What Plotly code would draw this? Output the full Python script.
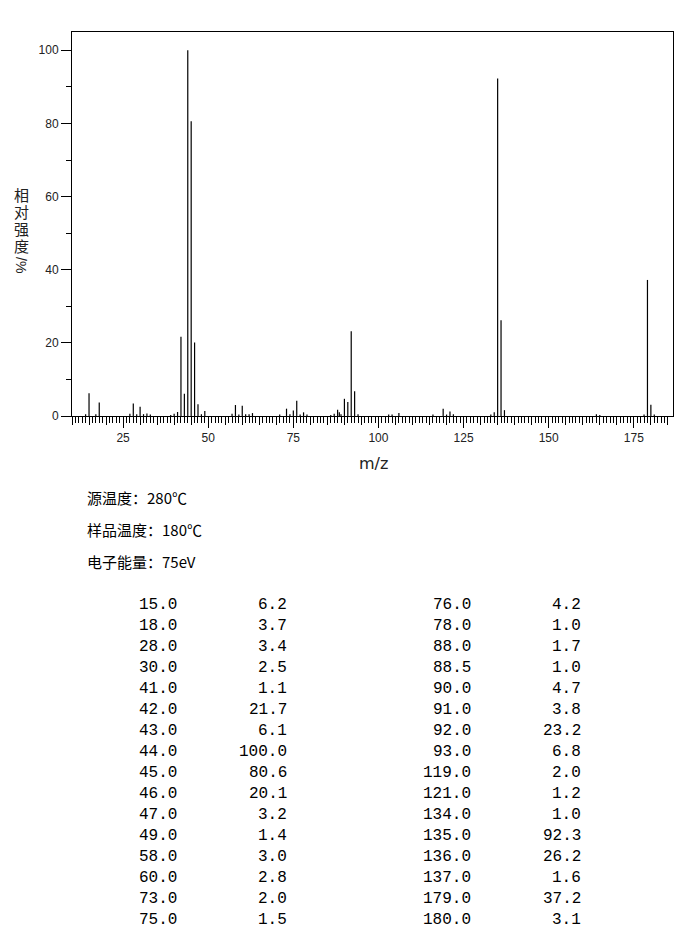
import plotly.graph_objects as go

# peak table (m/z, relative intensity %)
mz_left = [15.0, 18.0, 28.0, 30.0, 41.0, 42.0, 43.0, 44.0, 45.0, 46.0, 47.0, 49.0, 58.0, 60.0, 73.0, 75.0]
int_left = [6.2, 3.7, 3.4, 2.5, 1.1, 21.7, 6.1, 100.0, 80.6, 20.1, 3.2, 1.4, 3.0, 2.8, 2.0, 1.5]
mz_right = [76.0, 78.0, 88.0, 88.5, 90.0, 91.0, 92.0, 93.0, 119.0, 121.0, 134.0, 135.0, 136.0, 137.0, 179.0, 180.0]
int_right = [4.2, 1.0, 1.7, 1.0, 4.7, 3.8, 23.2, 6.8, 2.0, 1.2, 1.0, 92.3, 26.2, 1.6, 37.2, 3.1]

# small peaks (< 1 %)
minor_mz = [14, 17, 27, 29, 31, 32, 33, 39, 40, 48, 57, 59, 61, 62, 63, 71, 74, 77, 79,
            86, 87, 89, 94, 103, 104, 106, 116, 120, 122, 133, 164, 165, 178, 181]
minor_int = [0.5, 0.5, 0.6, 0.5, 0.5, 0.7, 0.4, 0.3, 0.6, 0.5, 0.6, 0.4, 0.5, 0.5, 0.8, 0.4, 0.5, 0.4, 0.4,
             0.3, 0.6, 0.5, 0.5, 0.4, 0.4, 0.8, 0.4, 0.4, 0.5, 0.4, 0.5, 0.3, 0.4, 0.4]

info_lines = ["源温度：280℃", "样品温度：180℃", "电子能量：75eV"]
ytitle_chars = "相对强度"

W, H = 696, 950
OFF = 8  # page body margin
L, R, T, B = 72, 673, 32, 416  # plot box on the page


def px(x):
    return (x - L) / (R - L)


def py(y):
    return (B - y) / (B - T)


all_mz = mz_left + mz_right + minor_mz
all_int = int_left + int_right + minor_int
xs, ys = [], []
for m, v in zip(all_mz, all_int):
    xs += [m, m, None]
    ys += [0, v, None]

fig = go.Figure()
fig.add_trace(go.Scatter(x=xs, y=ys, mode="lines", line=dict(color="black", width=1.2),
                         hoverinfo="skip", showlegend=False))
# dummy trace so the 5-unit tick axis is drawn
fig.add_trace(go.Scatter(x=[None], y=[None], xaxis="x2", showlegend=False, hoverinfo="skip"))

tick_font = dict(family="Liberation Sans", size=12, color="#222")
fig.update_layout(
    width=W, height=H,
    margin=dict(l=L - OFF, r=W - R + OFF, t=T - OFF, b=H - B + OFF),
    plot_bgcolor="white", paper_bgcolor="white",
    xaxis=dict(range=[10, 186.5], showgrid=False, zeroline=False,
               showline=True, mirror=True, linecolor="black", linewidth=1,
               tickmode="array", tickvals=[25, 50, 75, 100, 125, 150, 175],
               ticks="outside", ticklen=11, tickcolor="black", tickwidth=1,
               tickfont=tick_font,
               minor=dict(tickmode="array", tickvals=list(range(10, 186)),
                          ticks="outside", ticklen=6, tickcolor="black", tickwidth=1)),
    xaxis2=dict(range=[10, 186.5], overlaying="x", anchor="y", side="bottom",
                showgrid=False, zeroline=False, showline=False, showticklabels=False,
                tickmode="array", tickvals=list(range(10, 186, 5)),
                ticks="outside", ticklen=8, tickcolor="black", tickwidth=1),
    yaxis=dict(range=[0, 105], showgrid=False, zeroline=False,
               showline=True, mirror=True, linecolor="black", linewidth=1,
               tickmode="array", tickvals=[0, 20, 40, 60, 80, 100],
               ticks="outside", ticklen=10, tickcolor="black", tickwidth=1,
               tickfont=tick_font,
               minor=dict(tickmode="array", tickvals=[10, 30, 50, 70, 90],
                          ticks="outside", ticklen=5, tickcolor="black", tickwidth=1)),
)

ann = []
# y title, stacked characters
for i, ch in enumerate(ytitle_chars):
    ann.append(dict(x=px(21), y=py(194 + i * 17), xref="paper", yref="paper", text=ch,
                    xanchor="center", yanchor="middle", showarrow=False,
                    font=dict(family="Noto Sans CJK SC", size=15, color="#222")))
ann.append(dict(x=px(21), y=py(265), xref="paper", yref="paper", text="/%", textangle=90,
                xanchor="center", yanchor="middle", showarrow=False,
                font=dict(family="Liberation Sans", size=14, color="#222")))
# x title
ann.append(dict(x=px(373), y=py(463), xref="paper", yref="paper", text="m/z",
                xanchor="center", yanchor="middle", showarrow=False,
                font=dict(family="DejaVu Sans", size=16, color="#222")))
# instrument info
for i, line in enumerate(info_lines):
    ann.append(dict(x=px(85), y=py(497 + i * 32), xref="paper", yref="paper", text=line,
                    xanchor="left", yanchor="middle", showarrow=False,
                    font=dict(family="Noto Sans CJK SC", size=15, color="black")))
# peak table
tfont = dict(family="Liberation Mono", size=16, color="black")
cols = [(mz_left, 179), (int_left, 289), (mz_right, 473), (int_right, 583)]
for vals, xr in cols:
    for i, v in enumerate(vals):
        ann.append(dict(x=px(xr), y=py(605 + i * 21), xref="paper", yref="paper",
                        text=f"{v:.1f}", xanchor="right", yanchor="middle",
                        showarrow=False, font=tfont))
fig.update_layout(annotations=ann)

fig.write_html("out.html")
